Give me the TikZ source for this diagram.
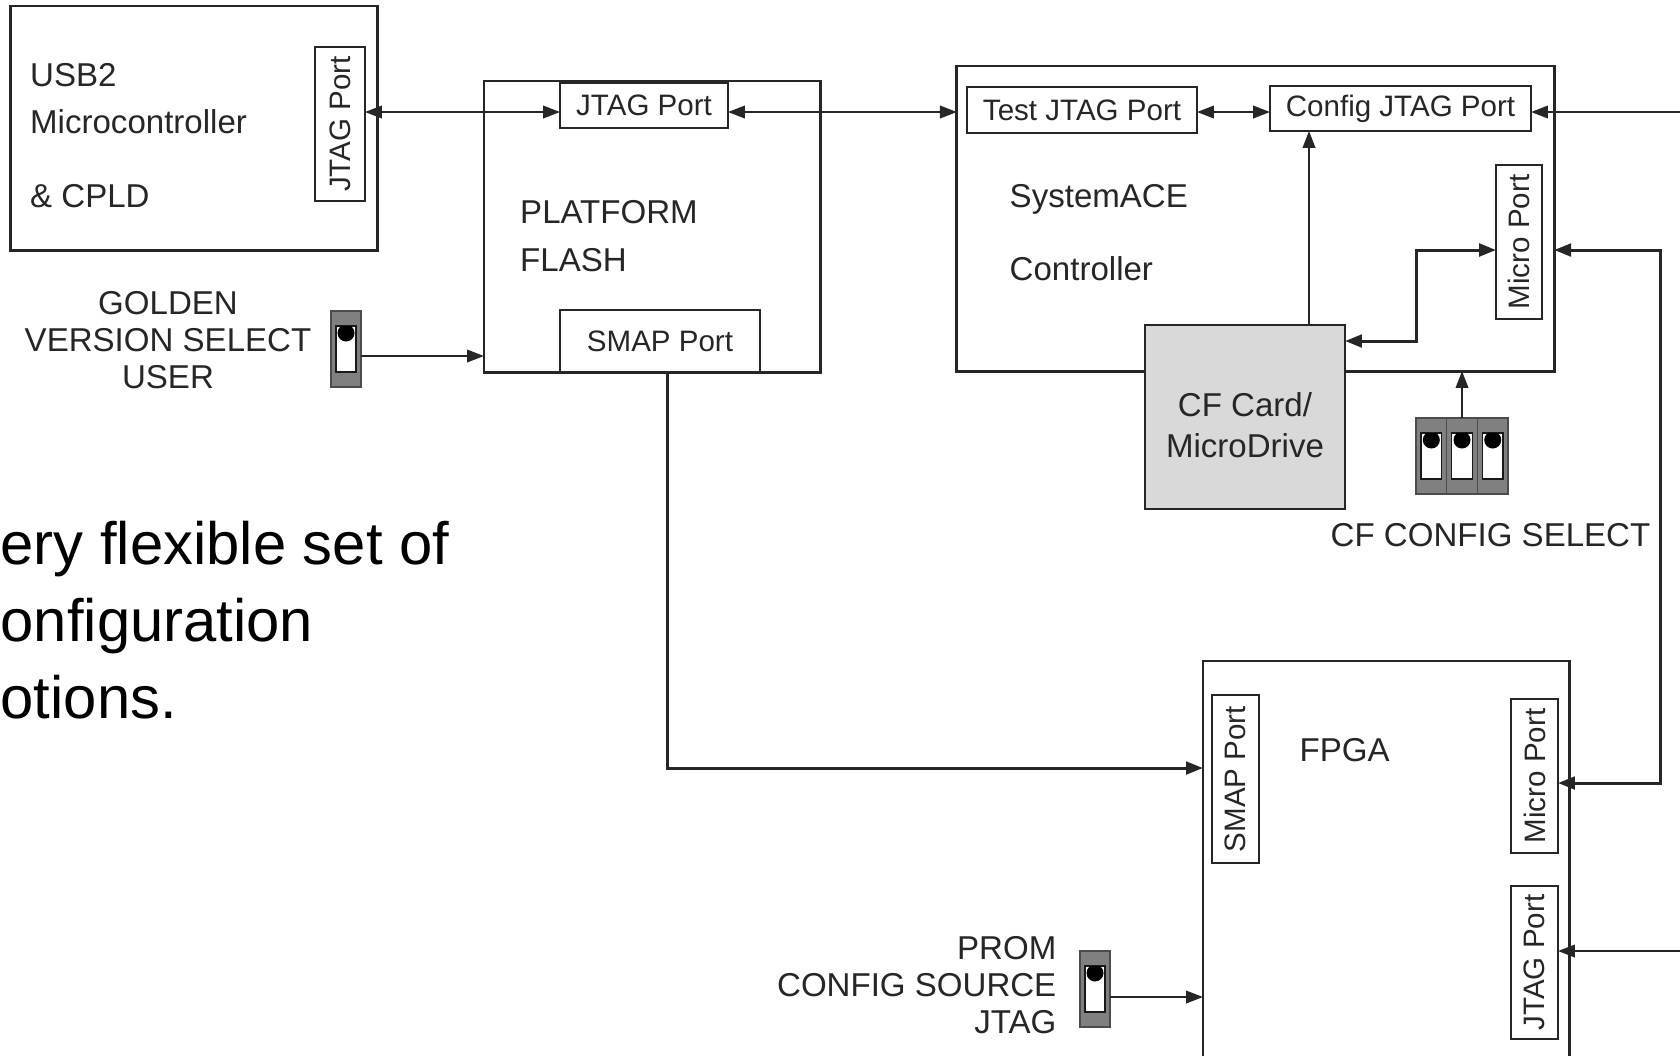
\documentclass[tikz,border=0pt]{standalone}
\usepackage{fontspec}
\setmainfont{Liberation Sans}
\usetikzlibrary{arrows.meta,calc}

\newcommand{\lblfont}{\fontsize{9.4pt}{10.6pt}\selectfont}
\newcommand{\portfont}{\fontsize{8.4pt}{10pt}\selectfont}
\newcommand{\bigfont}{\fontsize{17pt}{21.9pt}\selectfont}

% белое окошко и чёрная точка переключателя
\newcommand{\swslot}[1]{%
  \draw[fill=white, draw=black!90, line width=0.4pt]
    ($(#1.north west)+(5,15)$) coordinate (#1-a)
    rectangle ($(#1.south east)+(-5,-15)$) coordinate (#1-b);
  \begin{scope}
    \clip (#1-a) rectangle (#1-b);
    \fill[black] ($(#1.north)+(0,22)$) circle[radius=0.085cm];
  \end{scope}}

\tikzset{
  box/.style={draw=black!85, line width=0.8pt, inner sep=0pt, outer sep=0pt},
  port/.style={box, font=\portfont, text=black!85, line width=0.7pt},
  vport/.style={port, rotate=90},
  txt/.style={font=\lblfont, text=black!85, inner sep=0pt},
  swbody/.style={draw=black!70, fill=black!50, line width=0.4pt,
    minimum width=0.30cm, minimum height=0.76cm, inner sep=0pt, outer sep=0pt},
  wire/.style={draw=black!85, line width=0.45pt},
  bus/.style={draw=black!85, line width=0.85pt}
}

\begin{document}
\begin{tikzpicture}[
  x=0.01cm, y=-0.01cm,
  >={Triangle[length=4.8pt,width=3.6pt]},
  line join=miter
]
  \path[use as bounding box, fill=white] (0,0) rectangle (1680,1056);

  % USB2 и CPLD
  \node[box, minimum width=3.66cm, minimum height=2.44cm] (usb) at (194,128) {};
  \node[vport, minimum width=1.54cm, minimum height=0.50cm] (usbjtag) at (340,124) {JTAG Port};
  \node[txt, anchor=base west] (usbt1) at (29.5,86) {USB2};
  \node[txt, anchor=base west] (usbt2) at (29.5,133) {Microcontroller};
  \node[txt, anchor=base west] (usbt3) at (29.5,207) {\& CPLD};

  % Platform Flash
  \node[box, minimum width=3.36cm, minimum height=2.91cm] (flash) at (652,226.5) {};
  \node[port, minimum width=1.68cm, minimum height=0.45cm] (fjtag) at (644,105.5) {JTAG Port};
  \node[port, minimum width=2.00cm, minimum height=0.62cm] (fsmap) at (660,341) {SMAP Port};
  \node[txt, anchor=base west] (flt1) at (519.5,223) {PLATFORM};
  \node[txt, anchor=base west] (flt2) at (519.5,271) {FLASH};

  % SystemACE
  \node[box, minimum width=5.97cm, minimum height=3.05cm] (ace) at (1255.5,218.5) {};
  \node[port, minimum width=2.30cm, minimum height=0.46cm] (tjtag) at (1082,110) {Test JTAG Port};
  \node[port, minimum width=2.61cm, minimum height=0.45cm] (cjtag) at (1400.5,108.5) {Config JTAG Port};
  \node[vport, minimum width=1.54cm, minimum height=0.46cm] (amicro) at (1519,242) {Micro Port};
  \node[txt, anchor=base west] (acet1) at (1009,207) {SystemACE};
  \node[txt, anchor=base west] (acet2) at (1009,280) {Controller};

  % CF карта
  \node[box, fill=black!15, minimum width=2.00cm, minimum height=1.84cm] (cf) at (1245,417) {};
  \node[txt, align=center] (cft) at (1245,425) {CF Card/\\[1pt]MicroDrive};

  % FPGA (низ за краем)
  \node[box, draw=none, minimum width=3.66cm, minimum height=3.95cm] (fpga) at (1386,858.5) {};
  \draw[box] (fpga.south west) -- (fpga.north west) -- (fpga.north east) -- (fpga.south east);
  \node[vport, minimum width=1.68cm, minimum height=0.47cm] (fsmapv) at (1235.5,779) {SMAP Port};
  \node[vport, minimum width=1.54cm, minimum height=0.47cm] (fmicro) at (1534.5,776) {Micro Port};
  \node[vport, minimum width=1.53cm, minimum height=0.47cm] (fjtagv) at (1534.5,962.5) {JTAG Port};
  \node[txt, anchor=base west] (fpgat) at (1299,761) {FPGA};

  % переключатели
  \node[swbody] (gsw) at (346,349) {};
  \swslot{gsw}
  \node[txt, align=center] (gswt) at (168,340) {GOLDEN\\VERSION SELECT\\USER};

  \node[swbody] (psw) at (1095,989) {};
  \swslot{psw}
  \node[txt, align=right, anchor=east] (pswt) at (1057,985) {PROM\\CONFIG SOURCE\\JTAG};

  \foreach \i/\xx in {1/1431.3, 2/1462, 3/1492.7} {
    \node[swbody, minimum width=0.307cm] (csw\i) at (\xx,456) {};
    \swslot{csw\i}
  }
  \node[txt, anchor=base] (cswt) at (1490.5,546) {CF CONFIG SELECT};

  % вспомогательные точки
  \coordinate (jb) at (800,112);
  \coordinate (in1) at (1680,112);
  \coordinate (in2) at (1680,951);
  \coordinate (cx1) at (1309,300);
  \coordinate (cb1) at (1416,341);
  \coordinate (cb2) at (1416,250);
  \coordinate (rb1) at (1660,250);
  \coordinate (rb2) at (1660,783);
  \coordinate (sb1) at (667,768);
  \coordinate (gb) at (420,356);
  \coordinate (pb) at (1150,997);

  % JTAG цепочка
  \draw[wire, <->] (usbjtag.south |- jb) -- (fjtag.west |- jb);
  \draw[wire, <->] (fjtag.east |- jb) -- (ace.west |- jb);
  \draw[wire, <->] (tjtag.east |- jb) -- (cjtag.west |- jb);
  \draw[wire, ->] (in1) -- (cjtag.east |- in1);
  \draw[wire, ->] (cf.north -| cx1) -- (cjtag.south -| cx1);
  \draw[wire, ->] (in2) -- (fjtagv.south |- in2);

  % Micro Port шина
  \draw[bus, <->] (cf.east |- cb1) -- (cb1) -- (cb2) -- (amicro.north |- cb2);
  \draw[bus, <->] (ace.east |- rb1) -- (rb1) -- (rb2) -- (fmicro.south |- rb2);

  % SMAP
  \draw[bus, ->] (fsmap.south -| sb1) -- (sb1) -- (fpga.west |- sb1);

  % от переключателей
  \draw[wire, ->] (gsw.east |- gb) -- (flash.west |- gb);
  \draw[wire, ->] (psw.east |- pb) -- (fpga.west |- pb);
  \draw[wire, ->] (csw2.north) -- (csw2.north |- ace.south);

  % текст слева
  \node[font=\bigfont, inner sep=0pt, anchor=base west] (bt1) at (0,564) {ery flexible set of};
  \node[font=\bigfont, inner sep=0pt, anchor=base west] (bt2) at (0,641) {onfiguration};
  \node[font=\bigfont, inner sep=0pt, anchor=base west] (bt3) at (0,718) {otions.};
\end{tikzpicture}
\end{document}
